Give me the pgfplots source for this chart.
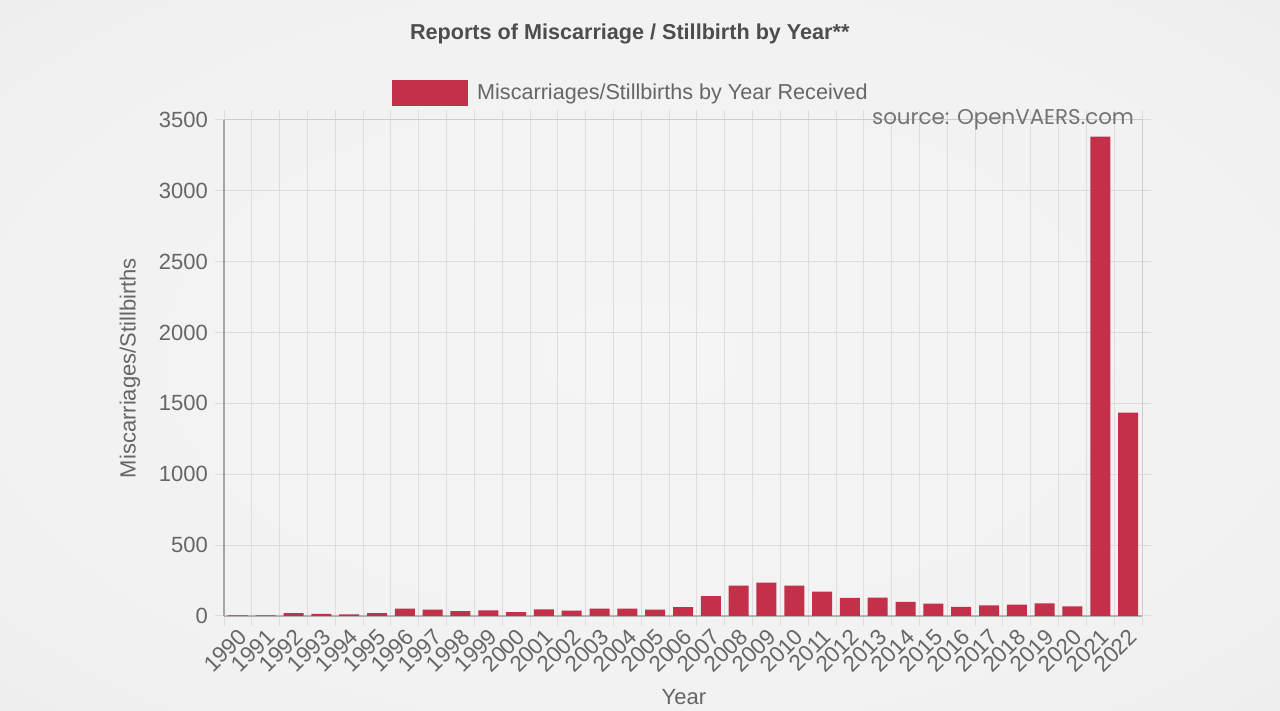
\documentclass[border=0pt]{standalone}
\usepackage{fontspec}
\setmainfont{Liberation Sans}
\newfontfamily\srcfont{Poppins}
\usepackage{pgfplots}
\usepackage{pgfplotstable}
\pgfplotsset{compat=1.18}
\definecolor{barc}{HTML}{C2304A}
\definecolor{gridc}{HTML}{DDDDDD}
\definecolor{txt}{HTML}{666666}
\definecolor{ttl}{HTML}{4D4D4D}
\definecolor{bgA}{HTML}{F5F5F5}
\definecolor{bgB}{HTML}{F1F1F1}
\definecolor{bgC}{HTML}{E4E4E4}
\definecolor{bgD}{HTML}{CBCBCB}
\pgfdeclareradialshading{vign}{\pgfpoint{0bp}{0bp}}{color(0bp)=(bgA); color(30bp)=(bgB); color(50bp)=(bgC); color(71bp)=(bgD)}
\pgfplotstableread{
x year value
0 1990 5
1 1991 5
2 1992 20
3 1993 15
4 1994 12
5 1995 20
6 1996 52
7 1997 45
8 1998 35
9 1999 40
10 2000 28
11 2001 47
12 2002 38
13 2003 52
14 2004 52
15 2005 45
16 2006 63
17 2007 141
18 2008 214
19 2009 235
20 2010 214
21 2011 172
22 2012 127
23 2013 130
24 2014 99
25 2015 87
26 2016 64
27 2017 75
28 2018 80
29 2019 89
30 2020 68
31 2021 3383
32 2022 1435
}\datatable
\begin{document}
\begin{tikzpicture}
\path[use as bounding box] (0,0) rectangle (640pt,355.5pt);
\shade[shading=vign] (0,0) rectangle (640pt,355.5pt);
\begin{axis}[
  at={(112pt,47.5pt)}, anchor=south west,
  scale only axis, width=459pt, height=248pt,
  clip=false,
  ymin=0, ymax=3500, xmin=-0.5, xmax=32.5,
  ytick={0,500,...,3500},
  xtick={0,...,32},
  xticklabels={1990,1991,1992,1993,1994,1995,1996,1997,1998,1999,2000,2001,2002,2003,2004,2005,2006,2007,2008,2009,2010,2011,2012,2013,2014,2015,2016,2017,2018,2019,2020,2021,2022},
  minor xtick={-0.5,0.5,...,32.5},
  xminorgrids=true, ymajorgrids=true,
  grid style={gridc, line width=0.5pt},
  minor grid style={gridc, line width=0.5pt},
  tick align=outside,
  major tick length=4.5pt, minor tick length=5pt,
  xtick style={draw=none},
  ytick style={draw=gridc, line width=0.5pt},
  minor x tick style={draw=gridc, line width=0.5pt},
  axis line style={draw=black!20, line width=0.5pt},
  /pgf/number format/assume math mode=true,
  /pgf/number format/1000 sep={},
  yticklabel style={font=\fontsize{11}{13}\selectfont, text=txt},
  xticklabel style={font=\fontsize{11.2}{13}\selectfont, text=txt, xshift=5pt, yshift=-1.5pt, rotate=45, anchor=east},
  ylabel={Miscarriages/Stillbirths},
  xlabel={Year},
  ylabel style={at={(axis description cs:-0.1024,0.5)}, anchor=center, font=\fontsize{11}{13}\selectfont, text=txt},
  xlabel style={at={(axis description cs:0.501,-0.163)}, anchor=center, font=\fontsize{11}{13}\selectfont, text=txt},
  title={Reports of Miscarriage / Stillbirth by Year**},
  every axis title shift=0pt,
  title style={at={(axis description cs:0.442,1.173)}, anchor=center, font=\bfseries\fontsize{10.8}{13}\selectfont, text=ttl},
  legend style={at={(axis description cs:0.4444,1.054)}, anchor=center, draw=none, fill=none, font=\fontsize{10.8}{13}\selectfont, text=txt},
]
\draw[black!35, line width=0.7pt] (rel axis cs:0,0) -- (rel axis cs:0,1);
\draw[black!30, line width=0.6pt] (rel axis cs:0,0) -- (rel axis cs:1,0);
\addplot[ybar, bar width=10pt, bar shift=0pt, fill=barc, draw=none,
  legend image code/.code={\fill[barc] (0pt,-6.5pt) rectangle (38pt,6.5pt); \path (40.5pt,0pt);}]
  table[x=x, y=value] {\datatable};
\addlegendentry{Miscarriages/Stillbirths by Year Received}
\node[anchor=east, font=\srcfont\fontsize{10.7}{13}\selectfont, text=black!55] at (rel axis cs:0.999,1.0) {source: OpenVAERS.com};
\end{axis}
\end{tikzpicture}
\end{document}
